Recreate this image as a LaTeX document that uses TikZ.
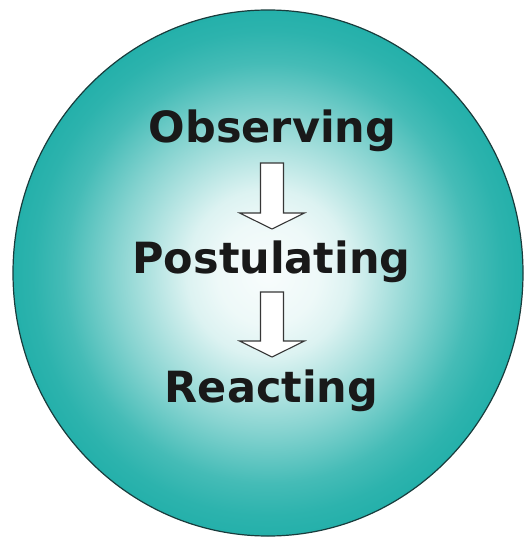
\documentclass[tikz,border=0pt]{standalone}
\usepackage{fontspec}
\setmainfont{DejaVu Sans}
\usetikzlibrary{calc}
\definecolor{tealc}{RGB}{36,176,170}
\definecolor{rimc}{RGB}{25,60,60}
\definecolor{arrowc}{RGB}{55,55,55}
\pgfdeclareradialshading{disc}{\pgfpoint{0bp}{0bp}}{%
  color(0bp)=(white!97!tealc);
  color(5bp)=(white!92!tealc);
  color(8bp)=(white!84!tealc);
  color(15bp)=(white!45!tealc);
  color(20bp)=(white!15!tealc);
  color(23bp)=(white!4!tealc);
  color(25bp)=(tealc);
  color(50bp)=(tealc)}
\tikzset{
  lbl/.style={anchor=base, inner sep=0pt, font=\bfseries\fontsize{43}{43}\selectfont, text=black!90},
  blockarr/.style={draw=arrowc, fill=white, line width=1.1pt, line join=miter},
}
\newcommand{\blockarrow}[2]{%
  \draw[blockarr] ($(#1)+(-11.5,0)$) -- ($(#1)+(11.5,0)$) -- ($(#2)+(11.5,-16)$)
    -- ($(#2)+(32.5,-16)$) -- (#2) -- ($(#2)+(-32.5,-16)$) -- ($(#2)+(-11.5,-16)$) -- cycle;}
\begin{document}
\begin{tikzpicture}[x=1pt,y=-1pt]
\useasboundingbox[fill=white] (0,0) rectangle (530,546);
\shadedraw[shading=disc, draw=rimc, line width=1.2pt] (268,273) ellipse [x radius=255, y radius=263];
\node[lbl] (obs) at (272.5,142) {Observing};
\node[lbl] (pos) at (271.5,273) {Postulating};
\node[lbl] (rea) at (271.5,402) {Reacting};
\coordinate (a1s) at (272,163);
\coordinate (a1t) at (272,229);
\coordinate (a2s) at (272,292);
\coordinate (a2t) at (272,357);
\blockarrow{a1s}{a1t}
\blockarrow{a2s}{a2t}
\end{tikzpicture}
\end{document}
